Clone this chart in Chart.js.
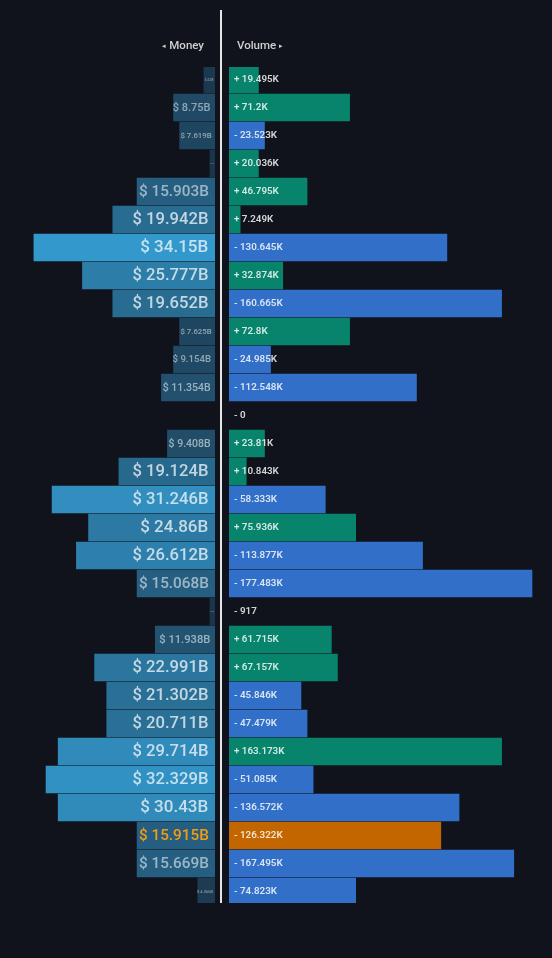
<!DOCTYPE html>
<html><head><meta charset="utf-8">
<style>html,body{margin:0;background:#10131c;overflow:hidden}
#wrap{position:relative;width:552px;height:958px}
canvas{position:absolute;top:0}
#divider{position:absolute;left:220px;top:10px;width:2px;height:893px;background:#e6e6e6}
.h{position:absolute;top:38px;font:500 11.5px Roboto,sans-serif;color:#cfcfcf;white-space:nowrap}
.a{font-size:7px;vertical-align:1px}
</style>
<script src="https://cdn.jsdelivr.net/npm/chart.js@4/dist/chart.umd.min.js"></script></head>
<body><div id="wrap">
<canvas id="l" style="left:0"></canvas>
<canvas id="r" style="left:222px"></canvas>
<div id="divider"></div>
<div class="h" style="right:348px"><span class="a">◂</span> Money</div>
<div class="h" style="left:237px">Volume <span class="a">▸</span></div>
</div>
<script>
const rows = Array.from({length:30},(_,i)=>String(i+1));
const moneyLabels = ["$ 4.2B","$ 8.75B","$ 7.619B","$ 1.1B","$ 15.903B","$ 19.942B","$ 34.15B","$ 25.777B","$ 19.652B","$ 7.625B","$ 9.154B","$ 11.354B","","$ 9.408B","$ 19.124B","$ 31.246B","$ 24.86B","$ 26.612B","$ 15.068B","$ 1.2B","$ 11.938B","$ 22.991B","$ 21.302B","$ 20.711B","$ 29.714B","$ 32.329B","$ 30.43B","$ 15.915B","$ 15.669B","$ 4.366B"];
const moneyLevels = [2,7,6,1,13,17,30,22,17,6,7,9,0,8,16,27,21,23,13,1,10,20,18,18,26,28,26,13,13,3];
const volumeLabels = ["+ 19.495K","+ 71.2K","- 23.523K","+ 20.036K","+ 46.795K","+ 7.249K","- 130.645K","+ 32.874K","- 160.665K","+ 72.8K","- 24.985K","- 112.548K","- 0","+ 23.81K","+ 10.843K","- 58.333K","+ 75.936K","- 113.877K","- 177.483K","- 917","+ 61.715K","+ 67.157K","- 45.846K","- 47.479K","+ 163.173K","- 51.085K","- 136.572K","- 126.322K","- 167.495K","- 74.823K"];
const volumeLevels = [5,20,6,5,13,2,36,9,45,20,7,31,0,6,3,16,21,32,50,0,17,18,12,13,45,14,38,35,47,21];
const highlightRow = 27;
const STEP=6.07, VSTEP=6.08, TOP=65.5, BOTTOM=52.5;
function mix(a,b,t){return a.map((v,i)=>Math.round(v+(b[i]-v)*t));}
function moneyColor(l){const c=mix([27,53,74],[51,152,204],Math.max(0,l-1)/29);return `rgb(${c})`;}
function moneyFont(l,t){
  if(l<=1)return 1.5; if(l<=2)return 3; if(l<=3)return 4; if(l<=6)return 7.8;
  if(l<=7)return t.length<8?11:9.6; if(l<=8)return 10.5; if(l<=9)return 10.5; if(l<=10)return 11.2;
  if(l<=13)return 15.3; return t.length<9?17:16.6;
}
function moneyAlpha(l){return l<=3?.45:l<=7?.5:l<=13?.55:.72;}
const labelPlugin=(labels,side)=>({id:'lbl'+side,afterDatasetsDraw(c){
  const g=c.ctx,y=c.scales.y;g.save();g.textBaseline='middle';
  labels.forEach((t,i)=>{ if(!t)return; const py=y.getPixelForValue(i);
    if(side==='L'){const l=moneyLevels[i];const f=moneyFont(l,t);
      g.font=`500 ${f}px Roboto,sans-serif`;g.textAlign='right';
      g.fillStyle=i===highlightRow?'#f39c12':`rgba(255,255,255,${moneyAlpha(l)})`;
      g.fillText(t,215-(f*.37+.5),py+.5);
    } else {
      g.font='600 9.8px Roboto,sans-serif';g.textAlign='left';
      g.fillStyle='rgba(255,255,255,.82)';g.fillText(t,12,py+.5);
    }});
  g.restore();}});
function make(id,labels,levels,colors,max,side,pad,clip){
  return new Chart(document.getElementById(id),{type:'bar',plugins:[labelPlugin(labels,side)],
   data:{labels:rows,datasets:[{data:levels,backgroundColor:colors,barThickness:27,borderWidth:0,clip}]},
   options:{indexAxis:'y',responsive:false,animation:false,devicePixelRatio:1,
    layout:{padding:{top:TOP,bottom:BOTTOM,left:pad.left,right:pad.right}},
    plugins:{legend:{display:false},tooltip:{enabled:false}},
    scales:{x:{display:false,min:0,max,reverse:side==='L'},y:{display:false,grid:{display:false}}}}});
}
document.getElementById('l').width=220;document.getElementById('l').height=958;
document.getElementById('r').width=330;document.getElementById('r').height=958;
make('l',moneyLabels,moneyLevels,moneyLevels.map(moneyColor),216/STEP,'L',{left:0,right:4},{left:0,right:-1,top:-1.5,bottom:-2.5});
const volColors=volumeLabels.map((t,i)=>i===highlightRow?'#c46600':t[0]==='+'?'#08846c':'#316fc8');
make('r',volumeLabels,volumeLevels,volColors,324/VSTEP,'R',{left:6,right:0},{left:-1,right:0,top:-1.5,bottom:-2.5});
</script></body></html>
